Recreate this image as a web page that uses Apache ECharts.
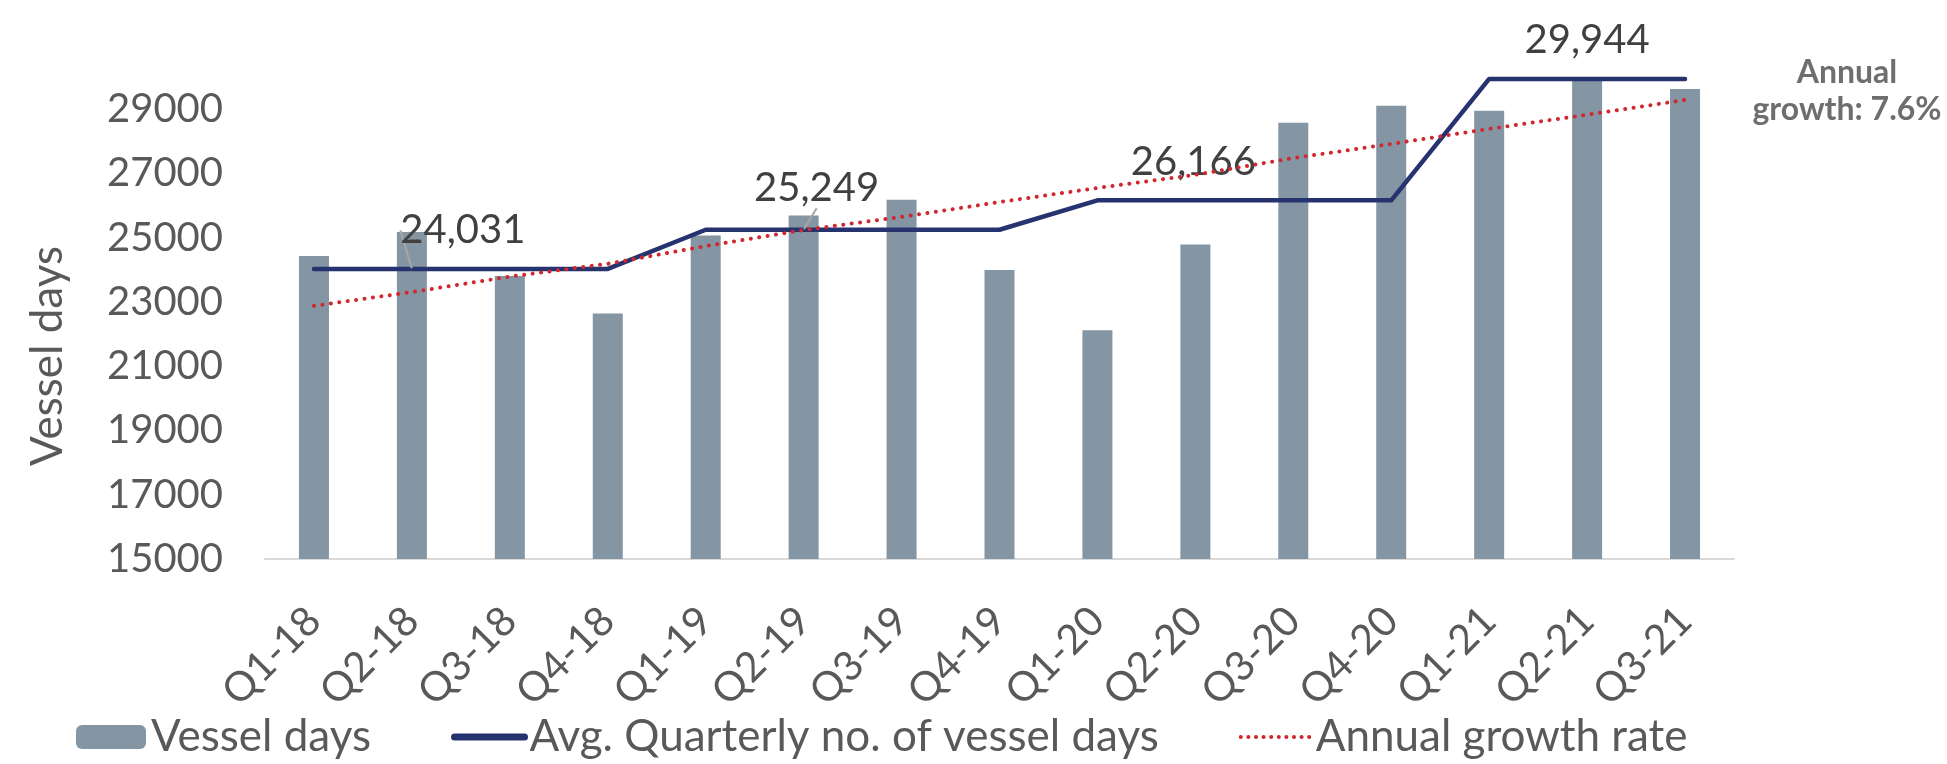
<!DOCTYPE html>
<html>
<head>
<meta charset="utf-8">
<script src="https://cdn.jsdelivr.net/npm/echarts@6/dist/echarts.min.js"></script>
<style>
  html, body { margin: 0; padding: 0; background: #fff; }
  #chart { width: 1947px; height: 764px; }
</style>
</head>
<body>
<div id="chart"></div>
<script>
const quarters = ['Q1-18', 'Q2-18', 'Q3-18', 'Q4-18', 'Q1-19', 'Q2-19', 'Q3-19', 'Q4-19',
  'Q1-20', 'Q2-20', 'Q3-20', 'Q4-20', 'Q1-21', 'Q2-21', 'Q3-21'];
const vesselDays = [24430, 25180, 23810, 22640, 25070, 25690, 26180, 24000,
  22120, 24790, 28580, 29110, 28950, 29920, 29630];
const avgQuarterly = [24031, 24031, 24031, 24031, 25249, 25249, 25249, 25249,
  26166, 26166, 26166, 26166, 29944, 29944, 29944];
const growthTrend = [22880, 23310, 23790, 24190, 24740, 25240, 25650, 26110,
  26550, 26960, 27480, 27920, 28390, 28830, 29290];
const labelledPoints = [1, 5, 9, 13];
const yTicks = { min: 15000, max: 31000, step: 2000 };

const FONT = 'Lato';
const chart = echarts.init(document.getElementById('chart'));

// label nudges (px) for the avg labels, like the excel original
const labelShift = { 1: [51, 0], 5: [13, -3], 9: [-2, 0], 13: [0, 0] };

const avgData = avgQuarterly.map((v, i) => {
  if (labelledPoints.indexOf(i) < 0) return v;
  return {
    value: v,
    label: { show: true },
    labelLine: { show: i === 1 || i === 5 },
  };
});

const option = {
  animation: false,
  grid: { left: 265, right: 213, top: 45, bottom: 205 },
  legend: {
    left: 76,
    top: 715,
    padding: 0,
    itemGap: 80,
    itemWidth: 70,
    itemHeight: 24,
    textStyle: { fontFamily: FONT, fontSize: 44, color: '#595959' },
    data: [
      { name: 'Vessel days' },
      {
        name: 'Avg. Quarterly no. of vessel days',
        itemStyle: { opacity: 0 },
        lineStyle: { width: 7, cap: 'round' },
      },
      {
        name: 'Annual growth rate',
        itemStyle: { opacity: 0 },
        lineStyle: { width: 4, type: [0.1, 7.5], cap: 'round' },
      },
    ],
  },
  xAxis: {
    type: 'category',
    data: quarters,
    axisLine: { lineStyle: { color: '#d9d9d9', width: 2 } },
    axisTick: { show: false },
    axisLabel: {
      rotate: 45,
      margin: 55,
      interval: 0,
      fontFamily: FONT,
      fontSize: 41,
      color: '#595959',
    },
  },
  yAxis: {
    type: 'value',
    min: yTicks.min,
    max: yTicks.max,
    interval: yTicks.step,
    name: 'Vessel days',
    nameLocation: 'middle',
    nameGap: 195,
    nameTextStyle: { fontFamily: FONT, fontSize: 44, color: '#595959', padding: [0, 108, 0, 0] },
    axisLine: { show: false },
    axisTick: { show: false },
    splitLine: { show: false },
    axisLabel: {
      margin: 42,
      showMaxLabel: false,
      fontFamily: FONT,
      fontSize: 40,
      color: '#595959',
      formatter: (v) => String(v),
    },
  },
  series: [
    {
      name: 'Vessel days',
      type: 'bar',
      data: vesselDays,
      barWidth: 30,
      itemStyle: { color: '#8496a4' },
    },
    {
      name: 'Avg. Quarterly no. of vessel days',
      type: 'line',
      data: avgData,
      symbol: 'circle',
      symbolSize: 1,
      itemStyle: { color: '#27336e' },
      lineStyle: { color: '#27336e', width: 4.5, cap: 'round', join: 'round' },
      label: {
        show: false,
        position: 'top',
        distance: 18,
        fontFamily: FONT,
        fontSize: 40,
        color: '#404040',
        formatter: (p) => p.value.toLocaleString('en-US'),
      },
      labelLine: { lineStyle: { color: '#a6a6a6', width: 2 } },
      labelLayout: (p) => {
        const s = labelShift[p.dataIndex] || [0, 0];
        return { dx: s[0], dy: s[1] };
      },
      z: 3,
    },
    {
      name: 'Annual growth rate',
      type: 'line',
      data: growthTrend,
      symbol: 'none',
      itemStyle: { color: '#d0282e' },
      lineStyle: { color: '#d0282e', width: 4, type: [0.1, 8.4], cap: 'round' },
      z: 4,
    },
  ],
  graphic: [
    {
      type: 'text',
      x: 1847,
      y: 54,
      style: {
        text: 'Annual\ngrowth: 7.6%',
        fontFamily: FONT,
        fontWeight: 'bold',
        fontSize: 32,
        lineHeight: 37,
        fill: '#6e6e6e',
        align: 'center',
      },
    },
  ],
};

chart.setOption(option);
</script>
</body>
</html>
